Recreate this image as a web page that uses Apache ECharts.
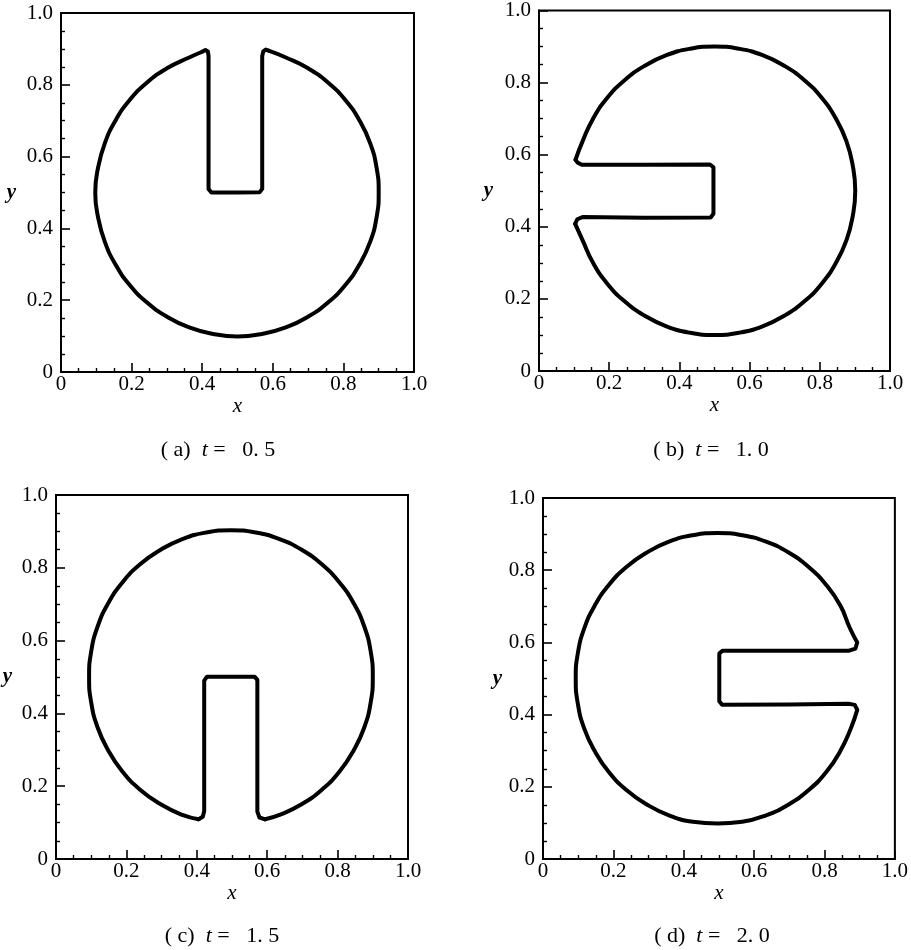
<!DOCTYPE html>
<html>
<head>
<meta charset="utf-8">
<script src="https://cdn.jsdelivr.net/npm/echarts/dist/echarts.min.js"></script>
<style>
  html, body { margin: 0; padding: 0; background: #fff; }
  #chart { width: 911px; height: 950px; }
</style>
</head>
<body>
<div id="chart"></div>
<script>
// Interface contour of the slotted disk at four times, as [x, y] pairs.
// Each contour is split into the straight slot part and the curved rim.
const slotA = [
  [0.400, 0.892], [0.409, 0.897], [0.416, 0.893], [0.418, 0.880], [0.418, 0.700], [0.418, 0.510],
  [0.426, 0.500], [0.500, 0.500], [0.563, 0.501], [0.570, 0.510], [0.570, 0.700], [0.570, 0.880],
  [0.573, 0.893], [0.580, 0.898], [0.588, 0.895]
];
const rimA = [
  [0.588, 0.895], [0.637, 0.876], [0.700, 0.846], [0.757, 0.806], [0.806, 0.757], [0.846, 0.700],
  [0.876, 0.637], [0.894, 0.569], [0.900, 0.500], [0.894, 0.431], [0.876, 0.363], [0.846, 0.300],
  [0.806, 0.243], [0.757, 0.194], [0.700, 0.154], [0.637, 0.124], [0.569, 0.106], [0.500, 0.099],
  [0.431, 0.106], [0.363, 0.124], [0.300, 0.154], [0.243, 0.194], [0.194, 0.243], [0.154, 0.300],
  [0.124, 0.363], [0.105, 0.431], [0.097, 0.500], [0.105, 0.569], [0.124, 0.637], [0.154, 0.700],
  [0.194, 0.757], [0.243, 0.806], [0.300, 0.846], [0.363, 0.876], [0.400, 0.892]
];
const slotB = [
  [0.104, 0.586], [0.110, 0.578], [0.122, 0.572], [0.300, 0.572], [0.487, 0.573], [0.497, 0.565],
  [0.497, 0.436], [0.489, 0.426], [0.300, 0.425], [0.124, 0.427], [0.109, 0.421], [0.103, 0.408]
];
const rimB = [
  [0.103, 0.408], [0.124, 0.363], [0.154, 0.300], [0.194, 0.243], [0.243, 0.194], [0.300, 0.154],
  [0.363, 0.124], [0.431, 0.106], [0.500, 0.100], [0.569, 0.106], [0.637, 0.124], [0.700, 0.154],
  [0.757, 0.194], [0.806, 0.243], [0.846, 0.300], [0.876, 0.363], [0.894, 0.431], [0.901, 0.500],
  [0.894, 0.569], [0.876, 0.637], [0.846, 0.700], [0.806, 0.757], [0.757, 0.806], [0.700, 0.846],
  [0.637, 0.876], [0.569, 0.894], [0.500, 0.900], [0.431, 0.894], [0.363, 0.876], [0.300, 0.846],
  [0.243, 0.806], [0.194, 0.757], [0.154, 0.700], [0.124, 0.637], [0.104, 0.586]
];
const slotC = [
  [0.405, 0.109], [0.417, 0.116], [0.421, 0.132], [0.421, 0.300], [0.421, 0.490], [0.429, 0.501],
  [0.564, 0.501], [0.572, 0.492], [0.572, 0.300], [0.572, 0.130], [0.578, 0.114], [0.594, 0.109]
];
const rimC = [
  [0.594, 0.109], [0.635, 0.121], [0.699, 0.151], [0.756, 0.191], [0.806, 0.241], [0.846, 0.299],
  [0.876, 0.362], [0.894, 0.430], [0.900, 0.500], [0.894, 0.570], [0.876, 0.638], [0.846, 0.702],
  [0.806, 0.759], [0.756, 0.809], [0.699, 0.849], [0.635, 0.879], [0.567, 0.897], [0.497, 0.903],
  [0.427, 0.897], [0.359, 0.879], [0.296, 0.849], [0.238, 0.809], [0.188, 0.759], [0.148, 0.702],
  [0.118, 0.638], [0.100, 0.570], [0.094, 0.500], [0.100, 0.430], [0.118, 0.362], [0.148, 0.299],
  [0.188, 0.241], [0.238, 0.191], [0.296, 0.151], [0.359, 0.121], [0.405, 0.109]
];
const slotD = [
  [0.893, 0.600], [0.888, 0.583], [0.870, 0.577], [0.700, 0.577], [0.510, 0.577], [0.501, 0.569],
  [0.501, 0.437], [0.509, 0.427], [0.700, 0.428], [0.868, 0.430], [0.886, 0.427], [0.893, 0.413]
];
const rimD = [
  [0.893, 0.413], [0.875, 0.362], [0.845, 0.299], [0.805, 0.241], [0.755, 0.191], [0.698, 0.151],
  [0.634, 0.121], [0.566, 0.103], [0.496, 0.098], [0.426, 0.103], [0.358, 0.121], [0.295, 0.151],
  [0.237, 0.191], [0.187, 0.241], [0.147, 0.299], [0.117, 0.362], [0.099, 0.430], [0.093, 0.500],
  [0.099, 0.570], [0.117, 0.638], [0.147, 0.702], [0.187, 0.759], [0.237, 0.809], [0.295, 0.849],
  [0.358, 0.879], [0.426, 0.897], [0.496, 0.903], [0.566, 0.897], [0.634, 0.879], [0.698, 0.849],
  [0.755, 0.809], [0.805, 0.759], [0.845, 0.702], [0.872, 0.640], [0.893, 0.600]
];

const panelLetters = ['a', 'b', 'c', 'd'];
const panelTimes = ['0. 5', '1. 0', '1. 5', '2. 0'];
const axisMin = 0, axisMax = 1, axisStep = 0.2;

const slots = [slotA, slotB, slotC, slotD];
const rims = [rimA, rimB, rimC, rimD];

// Plot-area boxes in pixels: left, top, width, height
const boxes = [
  [61, 13, 353, 359],
  [539, 9, 351, 362],
  [56, 495, 352, 364],
  [543, 498, 352, 361]
];
const yNameGaps = [45, 46, 44, 41];
const captionPos = [[213, 434], [706, 434], [217, 920], [707, 920]];

const SERIF = '"Liberation Serif", "DejaVu Serif", serif';
const NBSP = '\u00a0';

const chart = echarts.init(document.getElementById('chart'), null, { renderer: 'canvas' });

const grids = [], xAxes = [], yAxes = [], series = [], titles = [];

function tickFmt(v) { return v === 0 ? '0' : v.toFixed(1); }

function axisCommon(i) {
  return {
    type: 'value',
    gridIndex: i,
    min: axisMin,
    max: axisMax,
    interval: axisStep,
    splitLine: { show: false },
    axisLine: { show: true, onZero: false, lineStyle: { color: '#000', width: 2 } },
    axisTick: { show: true, inside: true, length: 9, lineStyle: { color: '#000', width: 1.6 } },
    minorTick: { show: true, splitNumber: 4, length: 4, lineStyle: { color: '#000', width: 1.4 } },
    axisLabel: {
      color: '#000', fontFamily: SERIF, fontSize: 21,
      formatter: tickFmt, showMinLabel: true, showMaxLabel: true
    }
  };
}

function contourLine(i, data, smooth) {
  return {
    type: 'line',
    xAxisIndex: i,
    yAxisIndex: i,
    data: data,
    showSymbol: false,
    symbol: 'none',
    smooth: smooth,
    silent: true,
    animation: false,
    lineStyle: { color: '#000', width: 4, join: 'round', cap: 'round' }
  };
}

boxes.forEach(function (b, i) {
  grids.push({
    left: b[0], top: b[1], width: b[2], height: b[3],
    show: true, borderColor: '#000', borderWidth: 2, backgroundColor: 'transparent'
  });

  const xa = axisCommon(i);
  xa.axisLabel.margin = 2;
  xa.name = 'x';
  xa.nameLocation = 'middle';
  xa.nameGap = 20;
  xa.nameTextStyle = { color: '#000', fontFamily: SERIF, fontSize: 21, fontStyle: 'italic' };
  xAxes.push(xa);

  const ya = axisCommon(i);
  ya.axisLabel.margin = 8;
  ya.name = 'y';
  ya.nameLocation = 'middle';
  ya.nameRotate = 0;
  ya.nameGap = yNameGaps[i];
  ya.nameTextStyle = { color: '#000', fontFamily: SERIF, fontSize: 21, fontStyle: 'italic', fontWeight: 'bold' };
  yAxes.push(ya);

  series.push(contourLine(i, slots[i], false));
  series.push(contourLine(i, rims[i], true));

  titles.push({
    text: '{n|( ' + panelLetters[i] + ')' + NBSP + NBSP + '}{i|t' + NBSP + '}{n|=' + NBSP + NBSP + NBSP + panelTimes[i] + '}',
    left: captionPos[i][0],
    top: captionPos[i][1],
    textAlign: 'center',
    textStyle: {
      fontWeight: 'normal',
      rich: {
        n: { fontFamily: SERIF, fontSize: 22, color: '#000', fontWeight: 'normal' },
        i: { fontFamily: SERIF, fontSize: 22, color: '#000', fontStyle: 'italic', fontWeight: 'normal' }
      }
    }
  });
});

chart.setOption({
  backgroundColor: '#fff',
  animation: false,
  title: titles,
  grid: grids,
  xAxis: xAxes,
  yAxis: yAxes,
  series: series
});
</script>
</body>
</html>
